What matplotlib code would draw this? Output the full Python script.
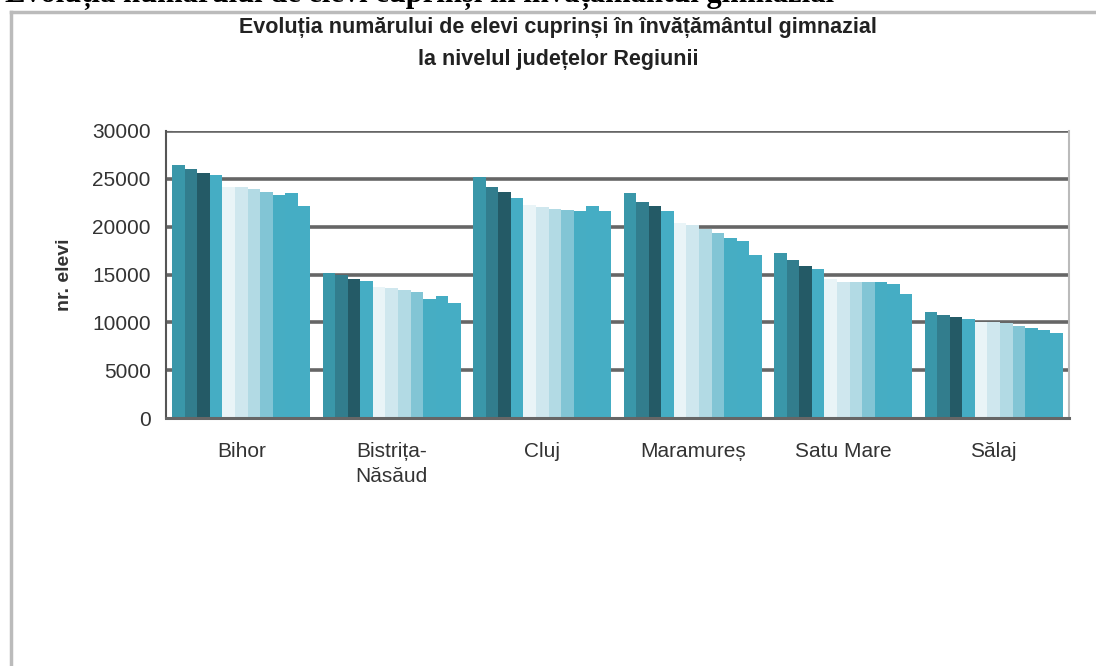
import matplotlib
matplotlib.use("Agg")
import matplotlib.pyplot as plt
import numpy as np
from matplotlib.lines import Line2D

judete = ["Bihor", "Bistrița-\nNăsăud", "Cluj", "Maramureș", "Satu Mare", "Sălaj"]

# 11 consecutive years per county
bihor      = [26450, 26000, 25580, 25400, 24180, 24150, 23900, 23660, 23310, 23550, 22160]
bistrita   = [15120, 14910, 14490, 14320, 13660, 13620, 13380, 13170, 12400, 12750, 11990]
cluj       = [25150, 24110, 23620, 22960, 22260, 22080, 21810, 21740, 21630, 22150, 21630]
maramures  = [23480, 22610, 22190, 21660, 20410, 20170, 19720, 19300, 18780, 18500, 17070]
satu_mare  = [17270, 16510, 15920, 15570, 14490, 14240, 14180, 14240, 14180, 13970, 12930]
salaj      = [11110, 10760, 10520, 10380, 10060, 10030,  9900,  9610,  9370,  9190,  8850]

yticks = [0, 5000, 10000, 15000, 20000, 25000, 30000]

colors = ["#3a97a9", "#327d8d", "#245a66", "#45adc4", "#e9f4f7", "#cfe7ee",
          "#b2dae4", "#82c5d5", "#46adc3", "#45adc4", "#45adc4"]

data = np.array([bihor, bistrita, cluj, maramures, satu_mare, salaj])
n_groups, n_years = data.shape

fig = plt.figure(figsize=(10.96, 6.66), dpi=100)
ax = fig.add_axes([166/1096, 1 - 418/666, (1069-166)/1096, (418-131)/666])

x = np.arange(n_groups)
group_w = 0.92
bw = group_w / n_years
for j in range(n_years):
    ax.bar(x - group_w/2 + bw*(j+0.5), data[:, j], width=bw, color=colors[j],
           linewidth=0, zorder=2)

ax.set_xlim(-0.5, n_groups - 0.5)
ax.set_ylim(0, 30000)
ax.set_yticks(yticks)
ax.set_yticklabels([str(v) for v in yticks], fontsize=15, color="#333333",
                   family="Liberation Sans")
ax.set_xticks(x)
ax.set_xticklabels(judete, fontsize=15, color="#333333", family="Liberation Sans",
                   linespacing=1.45)
ax.tick_params(axis="x", length=0, pad=17)
ax.tick_params(axis="y", direction="in", length=4, color="#666666", pad=11)
for v in yticks[1:]:
    ax.axhline(v, color="#666666", linewidth=2.6, zorder=1)

ax.spines["left"].set_color("#555555")
ax.spines["left"].set_linewidth(1.5)
ax.spines["bottom"].set_color("#666666")
ax.spines["bottom"].set_linewidth(2.2)
ax.spines["top"].set_visible(False)
ax.spines["right"].set_color("#bbbbbb")
ax.spines["right"].set_linewidth(1.5)

ax.set_ylabel("nr. elevi", fontsize=14, fontweight="bold", color="#333333",
              family="Liberation Sans")
ax.yaxis.set_label_coords(-93/903, 0.5)

fig.text(558/1096, 1 - 27/666, "Evoluția numărului de elevi cuprinși în învățământul gimnazial",
         ha="center", va="center", fontsize=15.5, fontweight="bold", color="#222222",
         family="Liberation Sans")
fig.text(558/1096, 1 - 60/666, "la nivelul județelor Regiunii",
         ha="center", va="center", fontsize=15.5, fontweight="bold", color="#222222",
         family="Liberation Sans")

# cut-off document heading at the very top (as in the reference)
fig.text(5/1096, 1 + 5/666, "Evoluția numărului de elevi cuprinși în învățământul gimnazial",
         ha="left", va="center", fontsize=22, fontweight="bold", color="#000000",
         family="Liberation Serif")

# outer frame of the embedded chart
fig.add_artist(Line2D([11/1096, 11/1096], [0, 1 - 12/666], transform=fig.transFigure,
                      color="#bbbbbb", linewidth=2.5))
fig.add_artist(Line2D([11/1096, 1], [1 - 12/666, 1 - 12/666], transform=fig.transFigure,
                      color="#bbbbbb", linewidth=2.5))

fig.savefig("out.png", dpi=100)
